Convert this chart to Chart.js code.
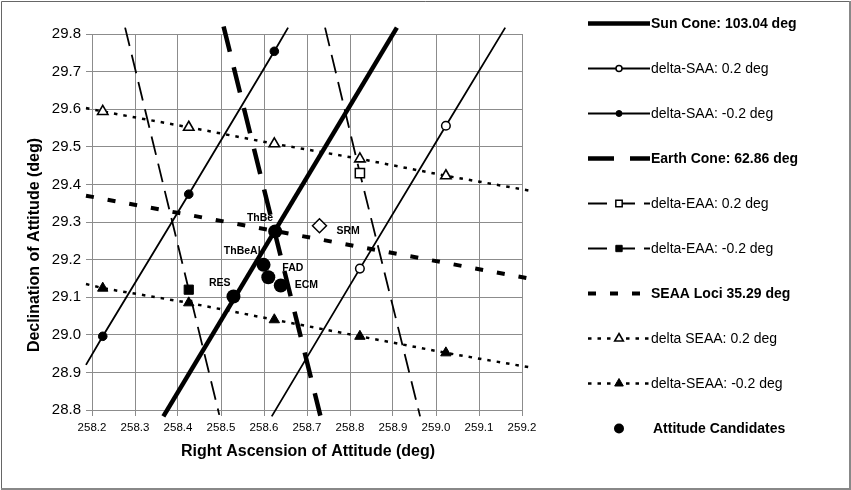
<!DOCTYPE html>
<html>
<head>
<meta charset="utf-8">
<script src="https://cdn.jsdelivr.net/npm/chart.js@4.4.1/dist/chart.umd.min.js"></script>
<style>
  html, body { margin: 0; padding: 0; background: #fff; }
  #wrap { width: 851px; height: 490px; }
</style>
</head>
<body>
<div id="wrap"><canvas id="chart" width="851" height="490"></canvas></div>
<script>
// axis ranges (deg)
const raRange = [258.2, 259.2];
const decRange = [28.8, 29.8];
const tickStep = 0.1;

// lines: visible ends + marker points
const sunConeRA = [258.366, 258.909];
const sunConeDec = [28.783, 29.817];

const saaPlusRA = [258.618, 258.823, 259.023, 259.161];
const saaPlusDec = [28.783, 29.176, 29.556, 29.817];

const saaMinusRA = [258.186, 258.225, 258.425, 258.624, 258.656];
const saaMinusDec = [28.92, 28.996, 29.374, 29.754, 29.817];

const earthConeRA = [258.506, 258.731];
const earthConeDec = [29.82, 28.785];

const eaaPlusRA = [258.742, 258.823, 258.963];
const eaaPlusDec = [29.817, 29.43, 28.783];

const eaaMinusRA = [258.277, 258.425, 258.496];
const eaaMinusDec = [29.817, 29.12, 28.787];

const seaaRA = [258.186, 259.215];
const seaaDec = [29.37, 29.15];

const seaaPlusRA = [258.186, 258.225, 258.425, 258.624, 258.823, 259.023, 259.215];
const seaaPlusDec = [29.603, 29.594, 29.552, 29.508, 29.468, 29.423, 29.384];

const seaaMinusRA = [258.186, 258.225, 258.425, 258.624, 258.823, 259.023, 259.215];
const seaaMinusDec = [29.135, 29.124, 29.085, 29.040, 28.996, 28.952, 28.914];

const candidateNames = ['RES', 'ThBeAl', 'FAD', 'ThBe', 'ECM'];
const candidateRA = [258.529, 258.599, 258.610, 258.626, 258.639];
const candidateDec = [29.102, 29.186, 29.153, 29.275, 29.131];

const srmName = 'SRM';
const srmRA = [258.729];
const srmDec = [29.290];

const FONT = '"Liberation Sans", Arial, Helvetica, sans-serif';

const pts = (xs, ys) => xs.map((x, i) => ({ x: x, y: ys[i] }));
// first and last points are only line ends, no marker there
const innerOnly = r => ctx => (ctx.dataIndex === 0 || ctx.dataIndex === ctx.dataset.data.length - 1) ? 0 : r;

function lineSet(label, data, extra) {
  return Object.assign({
    label: label,
    data: data,
    showLine: true,
    borderColor: '#000',
    backgroundColor: '#000',
    pointBorderColor: '#000',
    pointBackgroundColor: '#000',
    pointRadius: 0,
    pointHoverRadius: 0,
    clip: false,
    borderWidth: 1.8
  }, extra);
}

const datasets = [
  lineSet('Sun Cone: 103.04 deg', pts(sunConeRA, sunConeDec), { borderWidth: 4.5, bold: true }),
  lineSet('delta-SAA: 0.2 deg', pts(saaPlusRA, saaPlusDec), {
    pointStyle: 'circle', pointRadius: innerOnly(4.3), pointBackgroundColor: '#fff', pointBorderWidth: 1.5, legendR: 3
  }),
  lineSet('delta-SAA: -0.2 deg', pts(saaMinusRA, saaMinusDec), {
    pointStyle: 'circle', pointRadius: innerOnly(4.3), pointBorderWidth: 1, legendR: 3
  }),
  lineSet('Earth Cone: 62.86 deg', pts(earthConeRA, earthConeDec), { borderWidth: 4.5, borderDash: [26, 16], bold: true }),
  lineSet('delta-EAA: 0.2 deg', pts(eaaPlusRA, eaaPlusDec), {
    borderDash: [19, 9], pointStyle: 'rect', pointRadius: innerOnly(6.5), pointBackgroundColor: '#fff', pointBorderWidth: 1.5, legendR: 4.5
  }),
  lineSet('delta-EAA: -0.2 deg', pts(eaaMinusRA, eaaMinusDec), {
    borderDash: [19, 9], pointStyle: 'rect', pointRadius: innerOnly(6.5), pointBorderWidth: 1, legendR: 4.5
  }),
  lineSet('SEAA Loci 35.29 deg', pts(seaaRA, seaaDec), { borderWidth: 4, borderDash: [8, 14], bold: true }),
  lineSet('delta SEAA: 0.2 deg', pts(seaaPlusRA, seaaPlusDec), {
    borderWidth: 2.5, borderDash: [3.5, 6], pointStyle: 'triangle', pointRadius: innerOnly(6), pointBackgroundColor: '#fff', pointBorderWidth: 1.6, legendR: 5
  }),
  lineSet('delta-SEAA: -0.2 deg', pts(seaaMinusRA, seaaMinusDec), {
    borderWidth: 2.5, borderDash: [3.5, 6], pointStyle: 'triangle', pointRadius: innerOnly(6), pointBorderWidth: 1, legendR: 5
  }),
  {
    label: 'Attitude Candidates',
    data: pts(candidateRA, candidateDec),
    names: candidateNames,
    showLine: false,
    pointStyle: 'circle',
    pointRadius: 7,
    pointHoverRadius: 7,
    pointBackgroundColor: '#000',
    pointBorderColor: '#000',
    pointBorderWidth: 0,
    bold: true,
    noLegendLine: true,
    legendR: 5
  },
  {
    label: srmName,
    data: pts(srmRA, srmDec),
    names: [srmName],
    showLine: false,
    pointStyle: 'rectRot',
    pointRadius: 7,
    pointHoverRadius: 7,
    pointBackgroundColor: '#fff',
    pointBorderColor: '#000',
    pointBorderWidth: 1.5,
    hideLegend: true
  }
];

// label offsets next to each candidate marker [dx, dy, align]
const labelPlace = {
  RES: [-3, -13, 'right'],
  ThBeAl: [-3, -14, 'right'],
  FAD: [14, -9, 'left'],
  ThBe: [-2, -13, 'right'],
  ECM: [14, 0, 'left'],
  SRM: [17, 5, 'left']
};

function drawMark(ctx, style, r, x, y, fill, lw) {
  ctx.save();
  ctx.setLineDash([]);
  ctx.lineWidth = lw;
  ctx.strokeStyle = '#000';
  ctx.fillStyle = fill;
  ctx.beginPath();
  if (style === 'circle') {
    ctx.arc(x, y, r, 0, Math.PI * 2);
  } else if (style === 'rect') {
    const s = r * Math.SQRT1_2;
    ctx.rect(x - s, y - s, 2 * s, 2 * s);
  } else if (style === 'triangle') {
    ctx.moveTo(x, y - r);
    ctx.lineTo(x + r * 0.866, y + r * 0.5);
    ctx.lineTo(x - r * 0.866, y + r * 0.5);
    ctx.closePath();
  }
  ctx.fill();
  if (lw > 0) ctx.stroke();
  ctx.restore();
}

const decorPlugin = {
  id: 'decor',
  beforeDraw(chart) {
    const ctx = chart.ctx;
    ctx.save();
    ctx.fillStyle = '#fff';
    ctx.fillRect(0, 0, chart.width, chart.height);
    ctx.restore();
  },
  afterDatasetsDraw(chart) {
    const ctx = chart.ctx;
    const xs = chart.scales.x, ys = chart.scales.y;
    ctx.save();
    ctx.fillStyle = '#000';
    ctx.font = 'bold 10.5px ' + FONT;
    ctx.textBaseline = 'middle';
    chart.data.datasets.forEach(ds => {
      if (!ds.names) return;
      ds.data.forEach((p, i) => {
        const name = ds.names[i];
        const pl = labelPlace[name];
        ctx.textAlign = pl[2];
        ctx.fillText(name, xs.getPixelForValue(p.x) + pl[0], ys.getPixelForValue(p.y) + pl[1]);
      });
    });
    ctx.restore();
  },
  afterDraw(chart) {
    const ctx = chart.ctx;
    ctx.save();
    // axis titles
    ctx.fillStyle = '#000';
    ctx.font = 'bold 16px ' + FONT;
    ctx.textAlign = 'center';
    ctx.textBaseline = 'middle';
    ctx.fillText('Right Ascension of Attitude (deg)', 308, 452);
    ctx.save();
    ctx.translate(35, 245);
    ctx.rotate(-Math.PI / 2);
    ctx.fillText('Declination of Attitude (deg)', 0, 0);
    ctx.restore();

    // legend on the right
    const items = chart.data.datasets.filter(d => !d.hideLegend);
    items.forEach((ds, i) => {
      const y = 23.5 + i * 45;
      if (!ds.noLegendLine) {
        ctx.save();
        ctx.strokeStyle = '#000';
        ctx.lineWidth = ds.borderWidth;
        ctx.setLineDash(ds.borderDash || []);
        ctx.beginPath();
        ctx.moveTo(588, y);
        ctx.lineTo(650, y);
        ctx.stroke();
        ctx.restore();
      }
      if (ds.legendR) {
        drawMark(ctx, ds.pointStyle, ds.legendR, 619, y, ds.pointBackgroundColor, ds.pointBorderWidth || 0);
      }
      ctx.fillStyle = '#000';
      ctx.font = (ds.bold ? 'bold ' : '') + '14px ' + FONT;
      ctx.textAlign = 'left';
      ctx.textBaseline = 'middle';
      ctx.fillText(ds.label, ds.noLegendLine ? 653 : 651, y + 1);
    });

    // frame around the whole figure
    ctx.strokeStyle = '#666';
    ctx.lineWidth = 1;
    ctx.beginPath();
    ctx.moveTo(1.5, 488);
    ctx.lineTo(1.5, 1.5);
    ctx.lineTo(849, 1.5);
    ctx.stroke();
    ctx.strokeStyle = '#888';
    ctx.lineWidth = 2;
    ctx.beginPath();
    ctx.moveTo(850, 1);
    ctx.lineTo(850, 489);
    ctx.lineTo(1, 489);
    ctx.stroke();
    ctx.restore();
  }
};

new Chart(document.getElementById('chart'), {
  type: 'scatter',
  data: { datasets: datasets },
  options: {
    responsive: false,
    animation: false,
    events: [],
    layout: { padding: { left: 0, top: 34, right: 329, bottom: 0 } },
    plugins: {
      legend: { display: false },
      tooltip: { enabled: false }
    },
    scales: {
      x: {
        type: 'linear',
        min: raRange[0],
        max: raRange[1],
        afterFit: s => { s.height = 80; },
        grid: { color: '#8c8c8c', lineWidth: 1, tickLength: 6, tickColor: '#8c8c8c' },
        border: { color: '#8c8c8c' },
        ticks: {
          stepSize: tickStep,
          padding: 5,
          color: '#000',
          font: { family: FONT, size: 11.5 },
          maxRotation: 0,
          callback: v => v.toFixed(1)
        }
      },
      y: {
        type: 'linear',
        min: decRange[0],
        max: decRange[1],
        afterFit: s => { s.width = 92; },
        grid: { color: '#8c8c8c', lineWidth: 1, tickLength: 6, tickColor: '#8c8c8c' },
        border: { color: '#8c8c8c' },
        ticks: {
          stepSize: tickStep,
          padding: 5,
          color: '#000',
          font: { family: FONT, size: 15 },
          callback: v => v.toFixed(1)
        }
      }
    }
  },
  plugins: [decorPlugin]
});
</script>
</body>
</html>
